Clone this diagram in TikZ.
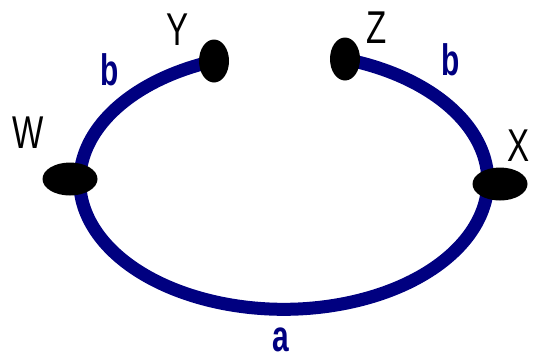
\documentclass[tikz,border=0pt]{standalone}
\usepackage{fontspec}
\setmainfont{Liberation Sans}
\usetikzlibrary{shapes.geometric,backgrounds}
\definecolor{navy}{HTML}{000080}
\begin{document}
\begin{tikzpicture}[x=1pt,y=-1pt,
  dot/.style={ellipse,fill=black,inner sep=0pt},
  wire/.style={draw=navy,line width=13pt},
  lbl/.style={font=\fontsize{46}{46}\selectfont,text=black,inner sep=0pt,xscale=0.72,transform shape},
  blbl/.style={font=\fontsize{44}{44}\selectfont\bfseries,text=navy,inner sep=0pt,xscale=0.68,transform shape}]
\useasboundingbox (0,0) rectangle (534,360);
\node[dot,minimum width=30pt,minimum height=43pt] (Y) at (214,61) {};
\node[dot,minimum width=30pt,minimum height=43pt] (Z) at (345,59) {};
\node[dot,minimum width=55pt,minimum height=33pt] (W) at (70,179) {};
\node[dot,minimum width=55pt,minimum height=33pt] (X) at (500,184) {};
\begin{pgfonlayer}{background}
\draw[wire] (Y.center) arc[start angle=250,end angle=-72.5,x radius=204,y radius=128] coordinate (Zend);
\end{pgfonlayer}
\node[lbl] (lW) at (28,133) {W};
\node[lbl] (lY) at (178,30) {Y};
\node[lbl] (lZ) at (377,28) {Z};
\node[lbl] (lX) at (519,146) {X};
\node[blbl] (lb1) at (110,70) {b};
\node[blbl] (lb2) at (451,60) {b};
\node[blbl] (la) at (281,340) {a};
\end{tikzpicture}
\end{document}
